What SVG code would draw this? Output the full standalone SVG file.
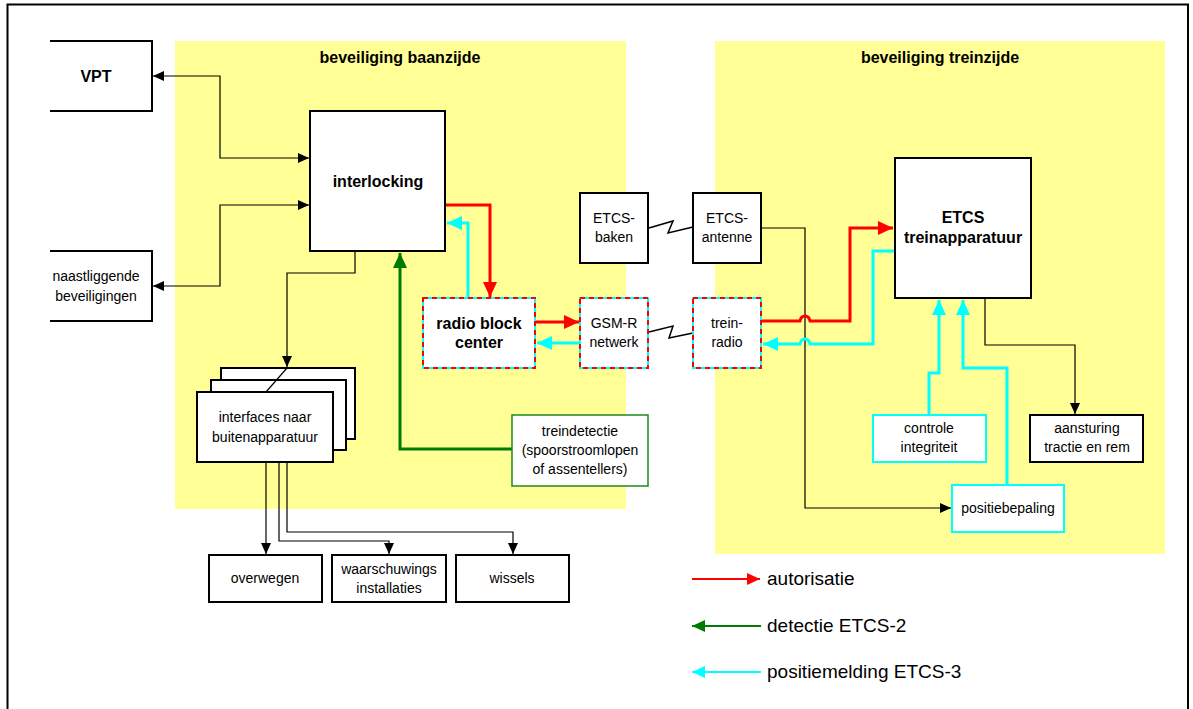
<svg xmlns="http://www.w3.org/2000/svg" width="1193" height="709" viewBox="0 0 1193 709">
<defs>
<marker id="ab" markerUnits="userSpaceOnUse" markerWidth="12" markerHeight="10" refX="11" refY="5" orient="auto-start-reverse"><path d="M0,0 L11,5 L0,10 Z" fill="#000"/></marker>
<marker id="ar" markerUnits="userSpaceOnUse" markerWidth="16" markerHeight="14" refX="15" refY="7" orient="auto"><path d="M0,0 L15,7 L0,14 Z" fill="#ff0000"/></marker>
<marker id="ag" markerUnits="userSpaceOnUse" markerWidth="16" markerHeight="14" refX="15" refY="7" orient="auto"><path d="M0,0 L15,7 L0,14 Z" fill="#007a00"/></marker>
<marker id="ac" markerUnits="userSpaceOnUse" markerWidth="16" markerHeight="14" refX="15" refY="7" orient="auto"><path d="M0,0 L15,7 L0,14 Z" fill="#00ffff"/></marker>
<marker id="ar2" markerUnits="userSpaceOnUse" markerWidth="14" markerHeight="12" refX="13" refY="6" orient="auto"><path d="M0,0 L13,6 L0,12 Z" fill="#ff0000"/></marker>
<marker id="ag2" markerUnits="userSpaceOnUse" markerWidth="14" markerHeight="12" refX="13" refY="6" orient="auto"><path d="M0,0 L13,6 L0,12 Z" fill="#007a00"/></marker>
<marker id="ac2" markerUnits="userSpaceOnUse" markerWidth="14" markerHeight="12" refX="13" refY="6" orient="auto"><path d="M0,0 L13,6 L0,12 Z" fill="#00ffff"/></marker>
</defs>
<style>
.t{font-family:"Liberation Sans",Arial,sans-serif;font-size:14px;fill:#000;text-anchor:middle}
.b{font-weight:bold;font-size:16px}
.lg{font-family:"Liberation Sans",Arial,sans-serif;font-size:19px;fill:#000}
.zone{fill:#ffff96}
.box{fill:#fff;stroke:#000;stroke-width:2}
.cyb{fill:#fff;stroke:#00ffff;stroke-width:2}
.dsh{fill:none;stroke:#ff0000;stroke-width:2;stroke-dasharray:5 4}
.thin{fill:none;stroke:#000;stroke-width:1.2}
.red{fill:none;stroke:#ff0000;stroke-width:3}
.cyan{fill:none;stroke:#00ffff;stroke-width:3}
.green{fill:none;stroke:#007a00;stroke-width:3}
</style>
<rect x="0" y="0" width="1193" height="709" fill="#fff"/>
<path d="M7.5,712 V4.5 H1188 V712" fill="none" stroke="#000" stroke-width="2"/>

<g id="zone-baanzijde">
<rect class="zone" x="175" y="41" width="451" height="468"/>
<text class="t b" x="400" y="63">beveiliging baanzijde</text>
</g>
<g id="zone-treinzijde">
<rect class="zone" x="715" y="41" width="450" height="513"/>
<text class="t b" x="940" y="63">beveiliging treinzijde</text>
</g>

<g id="connectors">
<path class="thin" d="M309,158 H220 V76 H153" marker-end="url(#ab)" marker-start="url(#ab)"/>
<path class="thin" d="M309,205 H220 V286 H153" marker-end="url(#ab)" marker-start="url(#ab)"/>
<path class="thin" d="M355,251 V273 H287 V367" marker-end="url(#ab)"/>
<path class="thin" d="M287,368 L266,392"/>
<path class="thin" d="M266,462 V554" marker-end="url(#ab)"/>
<path class="thin" d="M279,462 V541 H389 V554" marker-end="url(#ab)"/>
<path class="thin" d="M287,462 V532 H513 V554" marker-end="url(#ab)"/>
<path class="thin" d="M761,228 H805 V508 H951" marker-end="url(#ab)"/>
<path class="thin" d="M985,298 V345 H1075 V414" marker-end="url(#ab)"/>
<path d="M649,228 L673,221 L668,233 L693,227" fill="none" stroke="#000" stroke-width="1.5"/>
<path d="M649,332 L673,326 L669,338 L693,333" fill="none" stroke="#000" stroke-width="1.5"/>
<path class="red" d="M445,205 H490 V297" marker-end="url(#ar)"/>
<path class="cyan" d="M468,298 V223 H447" marker-end="url(#ac)"/>
<path class="red" d="M536,322 H579" marker-end="url(#ar)"/>
<path class="cyan" d="M580,343 H537" marker-end="url(#ac)"/>
<path class="green" d="M512,449 H400 V253" marker-end="url(#ag)"/>
<path class="red" d="M761,321 H800 Q801,316 805,316 Q809,316 810,321 H850 V228 H893" marker-end="url(#ar)"/>
<path class="cyan" d="M895,251 H873 V344 H810 Q809,339 805,339 Q801,339 800,344 H763" marker-end="url(#ac)"/>
<path class="cyan" d="M929,415 V373 H939 V300" marker-end="url(#ac)"/>
<path class="cyan" d="M1007,485 V368 H963 V300" marker-end="url(#ac)"/>
</g>

<g id="vpt">
<path class="box" d="M50,41 H152 V111 H50"/>
<text class="t b" x="96" y="82">VPT</text>
</g>
<g id="naastliggende">
<path class="box" d="M50,251 H152 V321 H50"/>
<text class="t" x="96" y="281">naastliggende</text>
<text class="t" x="96" y="301">beveiligingen</text>
</g>
<g id="interlocking">
<rect class="box" x="310" y="111" width="135" height="140"/>
<text class="t b" x="378" y="187">interlocking</text>
</g>
<g id="interfaces">
<rect class="box" x="221" y="368" width="134" height="71"/>
<rect class="box" x="211" y="380" width="135" height="70"/>
<rect class="box" x="197" y="392" width="136" height="70"/>
<path class="thin" d="M287,368 L266,392"/>
<text class="t" x="265" y="422">interfaces naar</text>
<text class="t" x="265" y="442">buitenapparatuur</text>
</g>
<g id="overwegen">
<rect class="box" x="209" y="555" width="113" height="47"/>
<text class="t" x="265" y="583">overwegen</text>
</g>
<g id="waarschuwings">
<rect class="box" x="332" y="555" width="114" height="47"/>
<text class="t" x="389" y="574">waarschuwings</text>
<text class="t" x="389" y="593">installaties</text>
</g>
<g id="wissels">
<rect class="box" x="456" y="555" width="113" height="47"/>
<text class="t" x="512" y="583">wissels</text>
</g>
<g id="treindetectie">
<rect x="512" y="415" width="136" height="71" fill="#fff" stroke="#1e8a1e" stroke-width="1.5"/>
<text class="t" x="580" y="436">treindetectie</text>
<text class="t" x="580" y="455">(spoorstroomlopen</text>
<text class="t" x="580" y="474">of assentellers)</text>
</g>
<g id="rbc">
<rect class="cyb" x="423" y="298" width="112" height="70"/>
<rect class="dsh" x="423" y="298" width="112" height="70"/>
<text class="t b" x="479" y="329">radio block</text>
<text class="t b" x="479" y="348">center</text>
</g>
<g id="gsmr">
<rect class="cyb" x="580" y="298" width="68" height="70"/>
<rect class="dsh" x="580" y="298" width="68" height="70"/>
<text class="t" x="614" y="328">GSM-R</text>
<text class="t" x="614" y="347">netwerk</text>
</g>
<g id="treinradio">
<rect class="cyb" x="693" y="298" width="68" height="70"/>
<rect class="dsh" x="693" y="298" width="68" height="70"/>
<text class="t" x="727" y="328">trein-</text>
<text class="t" x="727" y="347">radio</text>
</g>
<g id="etcs-baken">
<rect class="box" x="580" y="193" width="68" height="70"/>
<text class="t" x="614" y="223">ETCS-</text>
<text class="t" x="614" y="242">baken</text>
</g>
<g id="etcs-antenne">
<rect class="box" x="693" y="193" width="68" height="70"/>
<text class="t" x="727" y="223">ETCS-</text>
<text class="t" x="727" y="242">antenne</text>
</g>
<g id="etcs-trein">
<rect class="box" x="895" y="158" width="136" height="140"/>
<text class="t b" x="963" y="223">ETCS</text>
<text class="t b" x="963" y="243">treinapparatuur</text>
</g>
<g id="aansturing">
<rect class="box" x="1030" y="415" width="113" height="47"/>
<text class="t" x="1087" y="433">aansturing</text>
<text class="t" x="1087" y="452">tractie en rem</text>
</g>
<g id="controle">
<rect class="cyb" x="873" y="415" width="113" height="47"/>
<text class="t" x="929" y="433">controle</text>
<text class="t" x="929" y="452">integriteit</text>
</g>
<g id="positiebepaling">
<rect class="cyb" x="952" y="485" width="112" height="47"/>
<text class="t" x="1008" y="513">positiebepaling</text>
</g>

<g id="legend">
<path d="M692,579 H760" stroke="#ff0000" stroke-width="2" marker-end="url(#ar2)"/>
<text class="lg" x="767" y="585">autorisatie</text>
<path d="M761,626 H692" stroke="#007a00" stroke-width="2" marker-end="url(#ag2)"/>
<text class="lg" x="767" y="632">detectie ETCS-2</text>
<path d="M761,672 H692" stroke="#00ffff" stroke-width="2" marker-end="url(#ac2)"/>
<text class="lg" x="767" y="678">positiemelding ETCS-3</text>
</g>
</svg>
